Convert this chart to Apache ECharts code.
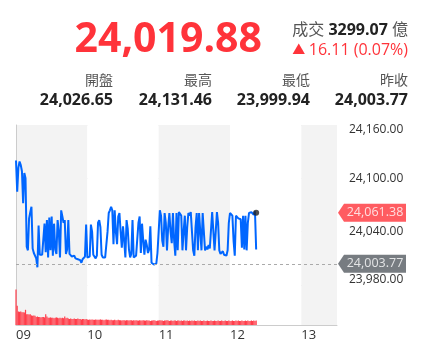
<!DOCTYPE html>
<html><head><meta charset="utf-8">
<script src="https://cdn.jsdelivr.net/npm/echarts@6/dist/echarts.min.js"></script>
<style>html,body{margin:0;padding:0;background:#fff}#c{width:425px;height:346px}</style>
</head><body><div id="c"></div>
<script>
// ---- data ----
const lastPrice = 24019.88;
const tradeVolume = '3299.07';
const change = 16.11;
const changePct = '0.07%';
const statLabels = ['開盤', '最高', '最低', '昨收'];
const statValues = [24026.65, 24131.46, 23999.94, 24003.77];
const prevClose = 24003.77;
const latestTag = 24061.38;
const hourLabels = ['09', '10', '11', '12', '13'];
const yTicks = [23980, 24040, 24100, 24160];
// minute-by-minute price from 09:00 (index = minutes since 09:00)
const prices = [
24120,24085,24112,24119,24115,24108,24072,24106,24100,24023,
24019,24055,24062,24068,24021,24016,24014,24010,23999.94,24047,
24014,24013,24014,24012,24049,24017,24053,24011,24056,24019,
24057,24013,24049,24020,24015,24053,24040,24011,24064,24057,
24050,24053,24015,24020,24053,24015,24013,24012,24011,24013,
24010,24012,24009,24011,24008,24005,24009,24010,24012,24048,
24011,24010,24012,24048,24040,24014,24012,24010,24013,24050,
24053,24045,24014,24011,24012,24011,24013,24040,24061,24064,
24068,24064,24026,24064,24040,24026,24057,24061,24040,24022,
24046,24030,24011,24053,24043,24020,24011,24015,24053,24011,
24012,24013,24015,24050,24057,24016,24049,24030,24014,24031,
24025,24016,24020,24046,24005,24004,24003,24002,24004,24016,
24040,24064,24058,24030,24023,24061,24050,24019,24045,24061,
24040,24027,24061,24030,24013,24061,24019,24062,24060,24058,
24019,24040,24058,24019,24045,24061,24058,24062,24040,24019,
24013,24045,24061,24019,24061,24040,24019,24061,24040,24019,
24023,24020,24025,24021,24020,24062,24061,24019,24040,24062,
24050,24019,24015,24013,24018,24014,24016,24013,24019,24050,
24061,24061,24058,24030,24013,24058,24056,24055,24055,24054,
24022,24058,24020,24058,24019,24050,24061,24059,24062,24063,
24059,24063,24019.88
];
// minute volume (億)
const volumes = [
89,48,34,33,34,32,32,31,38,27,
27,26,27,24,23,24,23,20,21,20,
20,19,20,20,19,27,21,18,18,19,
18,18,17,18,19,18,17,18,17,18,
17,21,17,18,16,15,16,15,15,16,
15,15,16,15,15,14,15,15,14,15,
14,13,14,13,14,13,13,14,13,13,
13,14,13,13,12,13,14,13,13,12,
13,12,12,13,12,12,13,12,12,11,
12,12,11,12,12,11,12,12,11,12,
11,12,11,11,12,11,11,12,11,11,
12,11,11,10,11,11,12,11,10,11,
11,12,11,11,10,11,11,12,11,10,
11,11,10,11,11,10,11,11,10,11,
10,11,11,10,11,10,11,10,11,10,
11,10,10,11,10,11,10,10,11,10,
10,11,10,10,11,10,10,11,10,10,
11,10,10,11,10,10,11,10,10,11,
10,10,11,10,10,11,10,11,10,10,
11,10,10,11,10,11,10,10,11,10,
11,10,11
];

// ---- build ----
const fmt = v => Number(v).toLocaleString('en-US', {minimumFractionDigits: 2, maximumFractionDigits: 2});
const priceData = prices.map((p, i) => [i, p]);
const volData = volumes.map((v, i) => [i, v]);
const FONT = '"Open Sans","Noto Sans CJK TC",sans-serif';
const RED = '#ff333a';

const chart = echarts.init(document.getElementById('c'), null, {renderer: 'canvas'});

const statRight = [113, 212, 310, 408];
const graphics = [
  {type: 'text', x: 262, y: 40, style: {text: fmt(lastPrice), fill: RED, font: 'bold 41px ' + FONT, textAlign: 'right', textVerticalAlign: 'middle'}},
  {type: 'text', x: 408, y: 30, style: {text: '{l|成交 }{b|' + tradeVolume + '}{l| 億}', textAlign: 'right', textVerticalAlign: 'middle',
      rich: {l: {fill: '#555', fontSize: 16, fontFamily: FONT}, b: {fill: '#222', fontSize: 16, fontWeight: 'bold', fontFamily: FONT}}}},
  {type: 'text', x: 408, y: 50, style: {text: '{a|▲ }' + change.toFixed(2) + ' (' + changePct + ')', fill: RED, font: '16px ' + FONT, textAlign: 'right', textVerticalAlign: 'middle',
      rich: {a: {fill: RED, fontSize: 13, fontFamily: FONT}}}}
];
statLabels.forEach((l, i) => {
  graphics.push({type: 'text', x: statRight[i], y: 81, style: {text: l, fill: '#555', font: '14px ' + FONT, textAlign: 'right', textVerticalAlign: 'middle'}});
  graphics.push({type: 'text', x: statRight[i], y: 100, style: {text: fmt(statValues[i]), fill: '#222', font: 'bold 16px ' + FONT, textAlign: 'right', textVerticalAlign: 'middle'}});
});

const bands = {show: true, areaStyle: {color: ['#f3f3f3', '#ffffff']}};
const TAG = 'path://M0,9L6,0L68,0L68,18L6,18Z';

chart.setOption({
  animation: false,
  textStyle: {fontFamily: FONT},
  graphic: graphics,
  grid: [
    {left: 16, right: 88, top: 125, height: 160},
    {left: 16, right: 88, top: 285, height: 40}
  ],
  xAxis: [
    {type: 'value', gridIndex: 0, min: 0, max: 270, interval: 60, axisLabel: {show: false}, axisTick: {show: false}, axisLine: {show: false}, splitLine: {show: false}, splitArea: bands},
    {type: 'value', gridIndex: 1, min: 0, max: 270, interval: 60, axisTick: {show: false},
      axisLine: {show: true, lineStyle: {color: '#cccccc'}}, splitLine: {show: false}, splitArea: bands,
      axisLabel: {align: 'left', color: '#333', fontSize: 13, margin: 4, showMaxLabel: false,
        formatter: v => { const i = Math.round(v / 60); return (v % 60 === 0 && hourLabels[i]) ? hourLabels[i] : ''; }}}
  ],
  yAxis: [
    {type: 'value', gridIndex: 0, position: 'right', min: yTicks[0], max: yTicks[yTicks.length - 1], interval: 60,
      axisLine: {show: true, lineStyle: {color: '#cccccc'}}, axisTick: {show: false},
      splitLine: {show: true, lineStyle: {color: '#e6e6e6'}},
      axisLabel: {color: '#333', fontSize: 12, margin: 12,
        formatter: v => v === yTicks[yTicks.length - 1] ? '{t|' + fmt(v) + '}' : (v === yTicks[0] ? '{b|' + fmt(v) + '}' : fmt(v)),
        rich: {t: {padding: [10, 0, 0, 0], fontSize: 12, color: '#333'}, b: {padding: [0, 0, 10, 0], fontSize: 12, color: '#333'}}}},
    {type: 'value', gridIndex: 1, position: 'right', min: 0, max: 100,
      axisLine: {show: true, lineStyle: {color: '#cccccc'}}, axisTick: {show: false}, axisLabel: {show: false}, splitLine: {show: false}}
  ],
  series: [
    {type: 'line', xAxisIndex: 0, yAxisIndex: 0, data: priceData, symbol: 'none', lineStyle: {color: '#0066ff', width: 2}, z: 3,
      markLine: {silent: true, symbol: 'none', label: {show: false}, lineStyle: {type: [3, 3], color: '#aaaaaa', width: 1},
        data: [{yAxis: prevClose}]}},
    {type: 'scatter', xAxisIndex: 0, yAxisIndex: 0, data: [[prices.length - 1, latestTag]], symbol: 'circle', symbolSize: 6, itemStyle: {color: '#222'}, z: 5},
    {type: 'scatter', xAxisIndex: 0, yAxisIndex: 0, clip: false, z: 10, symbol: TAG, symbolSize: [68, 18], symbolOffset: [35, 0],
      data: [
        {value: [270, latestTag], itemStyle: {color: RED}},
        {value: [270, prevClose], itemStyle: {color: '#555b61'}}
      ],
      label: {show: true, position: 'inside', offset: [3, 0], color: '#fff', fontSize: 12.5, formatter: p => fmt(p.value[1])}},
    {type: 'bar', xAxisIndex: 1, yAxisIndex: 1, data: volData, barWidth: 1.2, itemStyle: {color: '#ff3d4a'}}
  ]
});
</script>
</body></html>
